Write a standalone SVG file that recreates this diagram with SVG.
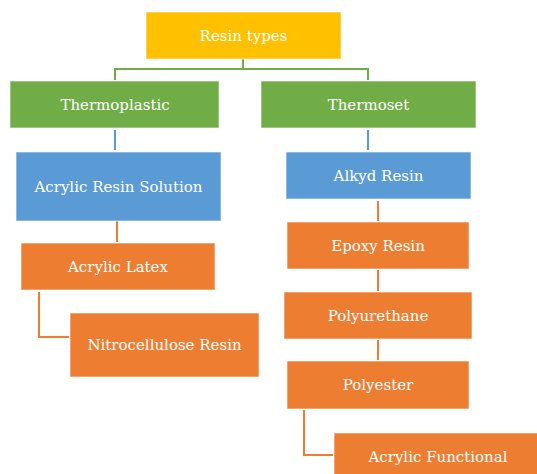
<svg xmlns="http://www.w3.org/2000/svg" width="537" height="474" viewBox="0 0 537 474">
<style>
.b{stroke:#ffffff;stroke-opacity:0.6;stroke-width:1}
.y{fill:#FFC000}.g{fill:#70AD47}.bl{fill:#5B9BD5}.o{fill:#ED7D31}
text{font-family:'DejaVu Serif',serif;font-size:15px;fill:#ffffff;text-anchor:middle}
.c{fill:none;stroke-width:2}
</style>
<rect width="537" height="474" fill="#ffffff"/>
<g id="connectors">
<path class="c" stroke="#70AD47" d="M243 59V69M115 69H368M115 68V80M368 68V80"/>
<path class="c" stroke="#5B9BD5" d="M115 130V150M368 130V150"/>
<path class="c" stroke="#ED7D31" d="M117 221V242M39 292V337H69M378 201V221M378 270V291M378 340V360M304 410V455H333"/>
</g>
<g id="resin-types"><rect class="b y" x="146" y="12" width="195" height="47"/><text x="243.5" y="41">Resin types</text></g>
<g id="thermoplastic"><rect class="b g" x="10" y="81" width="209" height="47"/><text x="115" y="110">Thermoplastic</text></g>
<g id="thermoset"><rect class="b g" x="261" y="81" width="215" height="47"/><text x="368.5" y="110">Thermoset</text></g>
<g id="acrylic-resin-solution"><rect class="b bl" x="16" y="152" width="205" height="69"/><text x="118.5" y="192">Acrylic Resin Solution</text></g>
<g id="acrylic-latex"><rect class="b o" x="21" y="243" width="194" height="47"/><text x="118" y="272">Acrylic Latex</text></g>
<g id="nitrocellulose-resin"><rect class="b o" x="70" y="313" width="189" height="64"/><text x="164.5" y="350">Nitrocellulose Resin</text></g>
<g id="alkyd-resin"><rect class="b bl" x="286" y="152" width="185" height="47"/><text x="378.5" y="181">Alkyd Resin</text></g>
<g id="epoxy-resin"><rect class="b o" x="287" y="222" width="182" height="47"/><text x="378" y="251">Epoxy Resin</text></g>
<g id="polyurethane"><rect class="b o" x="284" y="292" width="188" height="47"/><text x="378" y="321">Polyurethane</text></g>
<g id="polyester"><rect class="b o" x="287" y="361" width="182" height="48"/><text x="378" y="390">Polyester</text></g>
<g id="acrylic-functional"><rect class="b o" x="334" y="433" width="210" height="48"/><text x="438" y="462">Acrylic Functional</text></g>
</svg>
